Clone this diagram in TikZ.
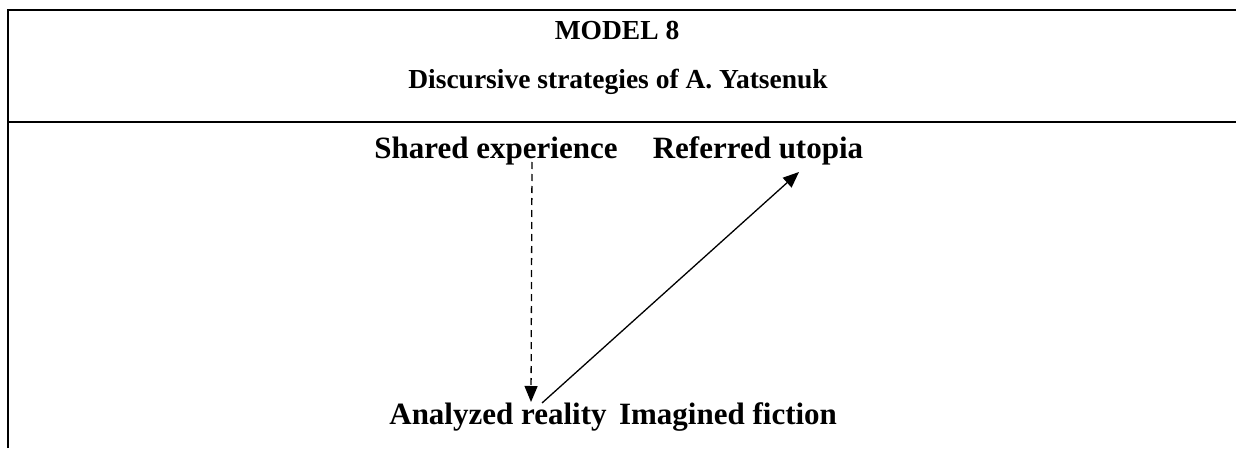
\documentclass[tikz,border=0pt]{standalone}
\usepackage{fontspec}
\setmainfont{Liberation Serif}
\usetikzlibrary{arrows.meta}
\begin{document}
\begin{tikzpicture}[x=1pt,y=1pt,
  frame/.style={line width=2.6pt},
  ttl/.style={font=\fontsize{27.5}{31}\selectfont\bfseries, inner sep=0pt, anchor=base},
  lbl/.style={font=\fontsize{31}{34}\selectfont\bfseries, inner sep=0pt, anchor=base},
  arr/.style={line width=1.3pt, -{Triangle[length=16pt,width=13pt]}},
  darr/.style={arr, dash pattern=on 7pt off 5pt}]
\useasboundingbox (0,0) rectangle (1236,448);
% frame lines
\draw[frame] (8,0) -- (8,438) -- (1236,438);
\draw[frame] (8,326) -- (1236,326);
% titles
\node[ttl] (title) at (617,408) {MODEL 8};
\node[ttl] (sub) at (618,359) {Discursive strategies of A. Yatsenuk};
% labels
\node[lbl] (se) at (496,290) {Shared experience};
\node[lbl] (ru) at (758,290) {Referred utopia};
\node[lbl] (ar) at (498,24) {Analyzed reality};
\node[lbl] (imf) at (728,24) {Imagined fiction};
% connector ends
\coordinate (seEnd) at (532,286);
\coordinate (arTop) at (531,46);
\coordinate (arStart) at (542,45);
\coordinate (ruEnd) at (799,276);
\draw[darr] (seEnd) -- (arTop);
\draw[arr] (arStart) -- (ruEnd);
\end{tikzpicture}
\end{document}
